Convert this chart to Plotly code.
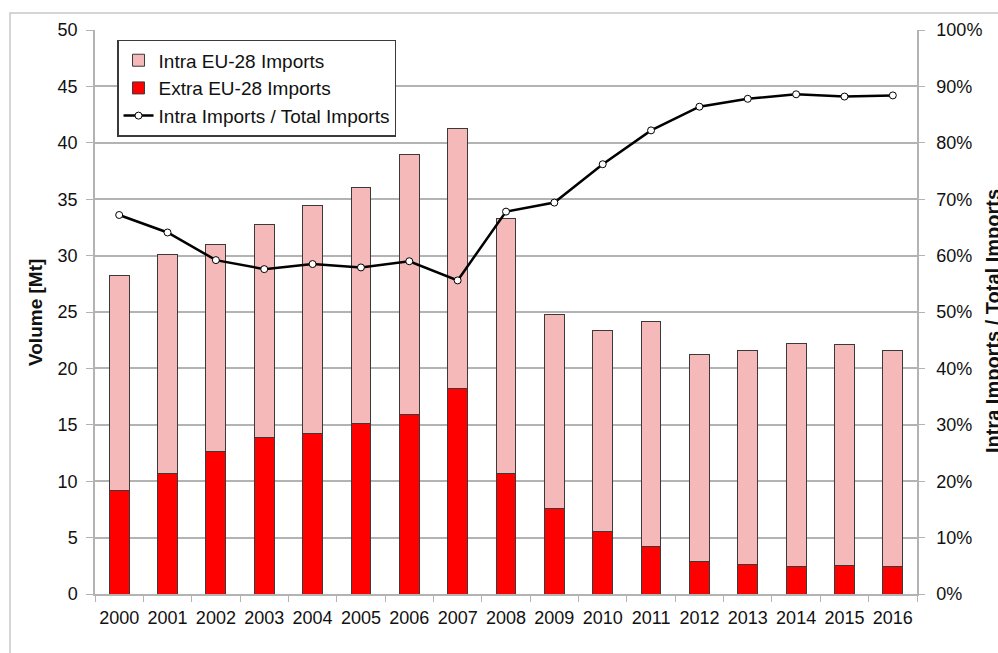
import plotly.graph_objects as go

years = [str(y) for y in range(2000, 2017)]
total_imports = [28.2, 30.1, 31.0, 32.8, 34.45, 36.0, 39.0, 41.3, 33.3, 24.8, 23.4, 24.2, 21.2, 21.6, 22.25, 22.15, 21.6]
extra_imports = [9.2, 10.7, 12.6, 13.9, 14.25, 15.1, 15.9, 18.25, 10.7, 7.55, 5.5, 4.25, 2.9, 2.6, 2.45, 2.5, 2.45]
intra_imports = [round(t - e, 2) for t, e in zip(total_imports, extra_imports)]
intra_share = [0.672, 0.641, 0.592, 0.576, 0.585, 0.579, 0.590, 0.556, 0.678, 0.694, 0.762, 0.822, 0.864, 0.878, 0.886, 0.882, 0.884]

FONT = "Liberation Sans, Arial, sans-serif"
GRID = "#b3b3b3"
OUTLINE = "#3a3a3a"
TXT = "#111111"

fig = go.Figure()
fig.add_trace(go.Bar(
    x=years, y=extra_imports, name="Extra EU-28 Imports",
    marker=dict(color="#ff0000", line=dict(color=OUTLINE, width=1)),
    legendrank=2, legendgroup="b",
))
fig.add_trace(go.Bar(
    x=years, y=intra_imports, name="Intra EU-28 Imports",
    marker=dict(color="#f5b9b9", line=dict(color=OUTLINE, width=1)),
    legendrank=1, legendgroup="a",
))
fig.add_trace(go.Scatter(
    x=years, y=intra_share, name="Intra Imports / Total Imports", yaxis="y2",
    mode="lines+markers",
    line=dict(color="black", width=2.5),
    marker=dict(symbol="circle", size=7, color="white", line=dict(color="black", width=1)),
    legendrank=3, legendgroup="c",
))

fig.update_layout(
    width=998, height=653,
    margin=dict(l=95, r=81, t=30, b=59, autoexpand=False),
    paper_bgcolor="white", plot_bgcolor="white",
    barmode="stack", bargap=0.59,
    font=dict(family=FONT, size=18, color=TXT),
    showlegend=True,
    legend=dict(
        x=0.0268, y=0.9825, xanchor="left", yanchor="top",
        traceorder="normal", tracegroupgap=6,
        bgcolor="white", bordercolor=OUTLINE, borderwidth=1.5,
        font=dict(family=FONT, size=19, color=TXT),
        itemwidth=30,
    ),
    xaxis=dict(
        type="category", tickson="boundaries", range=[-0.5, 16.5],
        ticks="outside", ticklen=6, tickcolor=GRID, tickangle=0,
        showline=True, linecolor=GRID, linewidth=1.5,
        showgrid=False, tickfont=dict(size=18), ticklabelstandoff=7,
    ),
    yaxis=dict(
        range=[0, 50], dtick=5, ticks="outside", ticklen=7, tickcolor=GRID,
        showline=True, linecolor=GRID, linewidth=1.5,
        showgrid=True, gridcolor=GRID, gridwidth=1.5,
        zeroline=False, tickfont=dict(size=18), ticklabelstandoff=5,
    ),
    yaxis2=dict(
        range=[0, 1], dtick=0.1, tickformat=".0%", overlaying="y", side="right",
        ticks="outside", ticklen=6, tickcolor=GRID,
        showline=True, linecolor=GRID, linewidth=1.5,
        showgrid=False, zeroline=False, tickfont=dict(size=18), ticklabelstandoff=8,
    ),
    shapes=[dict(
        type="rect", xref="paper", yref="paper",
        x0=-0.1034, x1=1.102, y0=-0.12, y1=1.030,
        line=dict(color="#c8c8c8", width=1.5), fillcolor="rgba(0,0,0,0)",
        layer="below",
    )],
    annotations=[
        dict(text="<b>Volume [Mt]</b>", xref="paper", yref="paper",
             x=-0.0730, y=0.500, xanchor="center", yanchor="middle",
             textangle=-90, showarrow=False, font=dict(size=19, color=TXT)),
        dict(text="<b>Intra Imports / Total Imports</b>", xref="paper", yref="paper",
             x=1.0925, y=0.484, xanchor="center", yanchor="middle",
             textangle=-90, showarrow=False, font=dict(size=20, color=TXT)),
    ],
)

fig.write_html(
    "out.html",
    config={"displayModeBar": False},
    post_script="document.body.style.margin='0';document.body.style.overflow='hidden';",
)
